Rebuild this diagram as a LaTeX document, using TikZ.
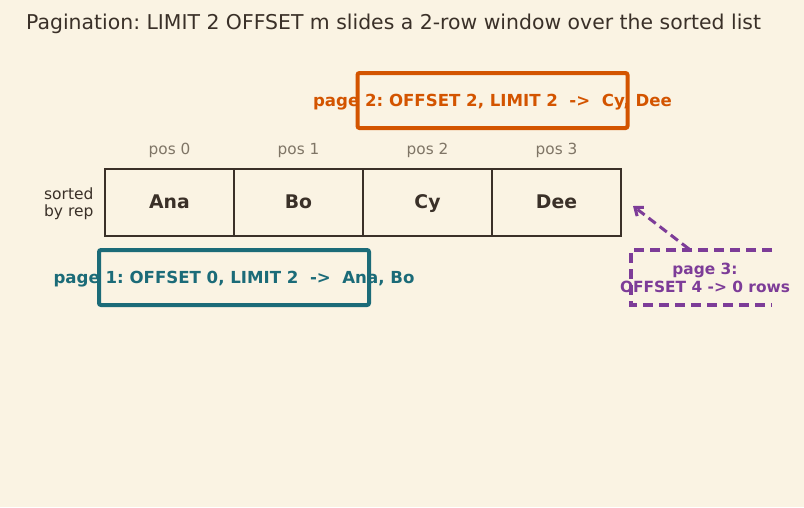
\documentclass[tikz,border=0pt]{standalone}
\usepackage{fontspec}
\setmainfont{DejaVu Sans}
\usetikzlibrary{arrows.meta}
\frenchspacing
\definecolor{paper}{HTML}{FAF3E3}
\definecolor{ink}{HTML}{3A3028}
\definecolor{muted}{HTML}{7F7566}
\definecolor{pageone}{HTML}{1B6B78}
\definecolor{pagetwo}{HTML}{D35400}
\definecolor{pagethree}{HTML}{7D3C98}
\tikzset{
	cell/.style={
			draw=ink, line width=2.5pt, minimum width=129pt, minimum height=67pt,
			inner sep=0pt, text=ink, text height=13.7pt, text depth=4.5pt,
			font=\fontsize{18.8}{20}\selectfont\bfseries
		},
	poslabel/.style={text=muted, font=\fontsize{15.3}{17}\selectfont},
	window/.style={line width=4pt, rounded corners=2pt, minimum width=270pt, minimum height=55pt, inner sep=0pt},
	wintext/.style={font=\fontsize{16.6}{18}\selectfont\bfseries},
	lastpage/.style={pagethree, line width=3.5pt, dash pattern=on 10pt off 6pt}
}

\begin{document}
\begin{tikzpicture}[x=1pt, y=-1pt]
			\fill[paper] (0,0) rectangle (804,507);
			\useasboundingbox (0,0) rectangle (804,507);

			\node[anchor=base west, inner sep=0pt, text=ink, font=\fontsize{20.4}{22}\selectfont] (title) at (26,29) {Pagination: LIMIT 2 OFFSET m slides a 2-row window over the sorted list};

			\foreach \name [count=\i from 0] in {Ana, Bo, Cy, Dee} {
				\node[cell] (c\i) at ({169.5 + 129*\i}, 202.5) {\raisebox{-1pt}{\name}};
				\node[poslabel] (p\i) at ({169.5 + 129*\i}, 150.5) {pos \i};
			}

			\node[anchor=east, align=right, text=ink, font=\fontsize{15.5}{17}\selectfont] (side) at (97,203.5) {sorted\\by rep};

			\node[window, draw=pagetwo] (win2) at (492.5,100.5) {};
			\node[wintext, text=pagetwo] (txt2) at ([yshift=-1.8pt]win2.center) {page 2: OFFSET 2, LIMIT 2 \ ->\ \ Cy, Dee};

			\node[window, draw=pageone] (win1) at (234,277.5) {};
			\node[wintext, text=pageone] (txt1) at ([yshift=-1.8pt]win1.center) {page 1: OFFSET 0, LIMIT 2 \ ->\ \ Ana, Bo};

			\draw[lastpage] (772,250) -- (631,250) -- (631,305) -- (772,305);
			\node[align=center, text=pagethree, font=\fontsize{15.4}{18}\selectfont\bfseries] (txt3) at (705,277.5) {page 3:\\OFFSET 4 -> 0 rows};

			\coordinate (from3) at (689,249);
			\coordinate (to3) at (633,206);
			\draw[lastpage, line width=3pt, dash pattern=on 9pt off 5pt, -{Straight Barb[length=7pt, width=11pt]}] (from3) to (to3);
		\end{tikzpicture}
\end{document}
